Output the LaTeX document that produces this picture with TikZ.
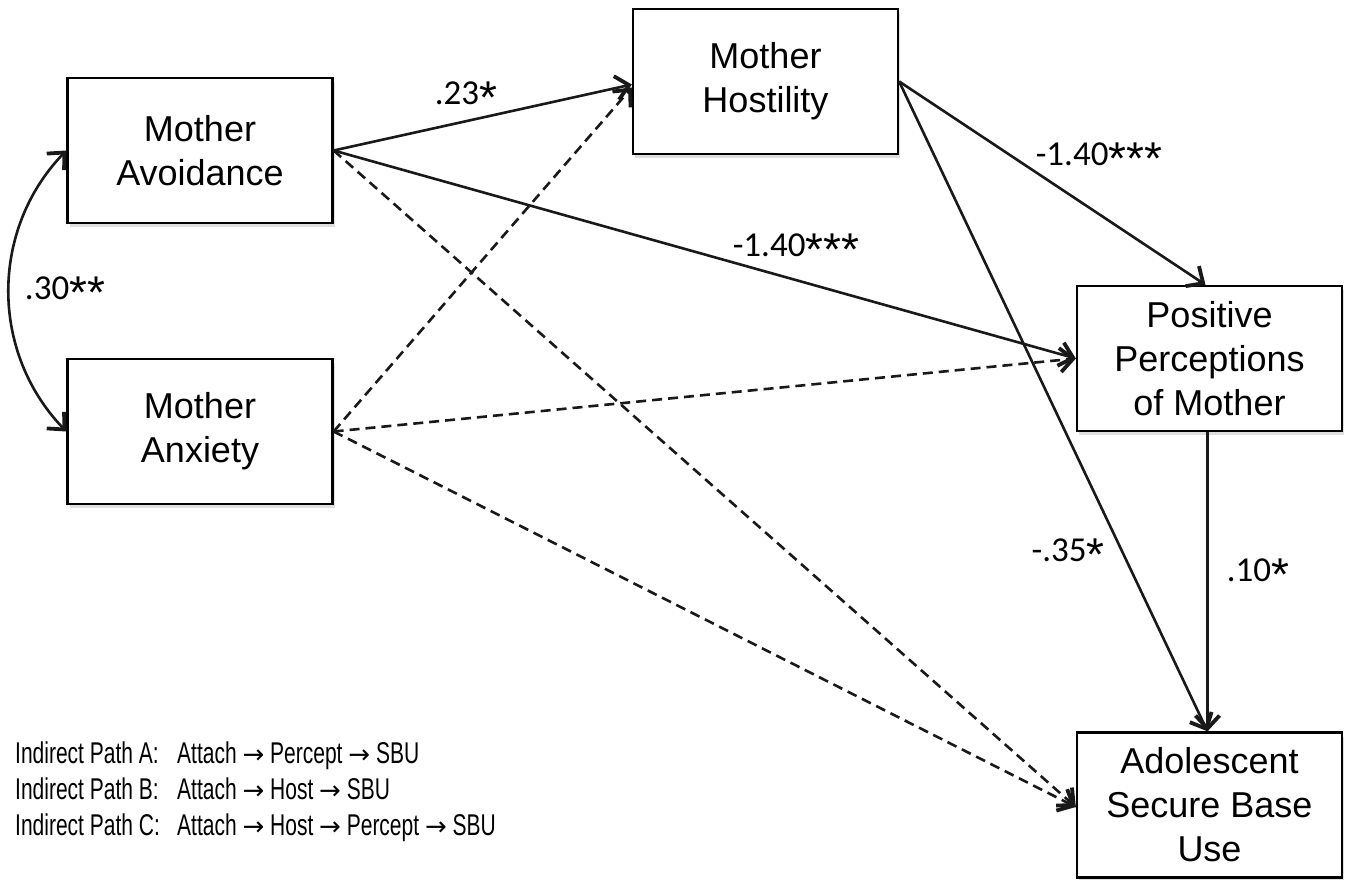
\documentclass[tikz,border=0pt]{standalone}
\usepackage{graphicx}
\usepackage{fontspec}
\setmainfont{Liberation Sans}
\newfontfamily\labfont{Carlito}
\newfontfamily\stfont{Liberation Sans}
\newfontfamily\narrowfont[FakeStretch=0.70]{Liberation Sans}
\newfontfamily\arrowfont{DejaVu Sans}
\usetikzlibrary{arrows.meta,shadows}
\tikzset{
  varbox/.style={draw=black, line width=2.3pt, fill=white, minimum width=265pt, minimum height=145pt,
    align=center, inner sep=0pt, font=\fontsize{36pt}{44pt}\selectfont,
    drop shadow={opacity=0.25, shadow xshift=2pt, shadow yshift=-4pt}},
  path/.style={line width=2.6pt, draw=black!90, -{Straight Barb[length=13pt,width=24pt,line width=3.8pt]}},
  dpath/.style={path, dash pattern=on 10pt off 6pt},
  coef/.style={font=\labfont\fontsize{35pt}{40pt}\selectfont, inner sep=0pt, anchor=base},
  legend/.style={font=\narrowfont\fontsize{30pt}{34pt}\selectfont, anchor=base west, inner sep=0pt}
}
\newcommand{\arr}{{\arrowfont\fontsize{26pt}{30pt}\selectfont →}}
\newcommand{\lead}[1]{\makebox[162pt][l]{#1}}
\newcommand{\st}{\raisebox{-9pt}{\stfont\fontsize{46pt}{46pt}\selectfont *}}
\begin{document}
\begin{tikzpicture}[x=1pt,y=-1pt]
\useasboundingbox (0,0) rectangle (1347,880);
\fill[white] (0,0) rectangle (1347,880);

\node[varbox] (avoid) at (200,150.5) {Mother\\Avoidance};
\node[varbox] (anx)   at (200,431.5) {Mother\\Anxiety};
\node[varbox] (host)  at (765.5,81.5) {Mother\\Hostility};
\node[varbox] (perc)  at (1209.5,358.5) {Positive\\Perceptions\\of Mother};
\node[varbox] (adol)  at (1209.5,805) {Adolescent\\Secure Base\\Use};

% covariance
\draw[line width=2.6pt, draw=black!90, {Straight Barb[length=13pt,width=24pt,line width=3.8pt]}-{Straight Barb[length=13pt,width=24pt,line width=3.8pt]}]
  (avoid.west) .. controls (-10,230) and (-10,352) .. (anx.west);
\node[coef] (c30) at (65,299) {.30\st\st};

% solid paths
\draw[path] (avoid.east) -- ([yshift=-3pt]host.west);
\draw[path] (avoid.east) -- (perc.west);
\draw[path] (host.east) -- ([xshift=-4pt]perc.north);
\draw[path] (host.east) -- ([xshift=-2pt]adol.north);
\draw[path] ([xshift=-2pt]perc.south) -- ([xshift=-2pt]adol.north);

% dashed paths
\draw[dpath] (avoid.east) -- ([yshift=-2pt]adol.west);
\draw[dpath] (anx.east) -- ([yshift=-6pt]host.west);
\draw[dpath] (anx.east) -- (perc.west);
\draw[dpath] (anx.east) -- ([yshift=-2pt]adol.west);

% coefficients
\node[coef] (c23) at (466,105) {.23\st};
\node[coef] (c140a) at (796,256) {-1.40\st\st\st};
\node[coef] (c140b) at (1099,166) {-1.40\st\st\st};
\node[coef] (c35) at (1068,561) {-.35\st};
\node[coef] (c10) at (1258,581) {.10\st};

% legend
\node[legend] (la) at (15,763) {\lead{Indirect Path A:}Attach \arr{} Percept \arr{} SBU};
\node[legend] (lb) at (15,799) {\lead{Indirect Path B:}Attach \arr{} Host \arr{} SBU};
\node[legend] (lc) at (15,835) {\lead{Indirect Path C:}Attach \arr{} Host \arr{} Percept \arr{} SBU};
\end{tikzpicture}
\end{document}
